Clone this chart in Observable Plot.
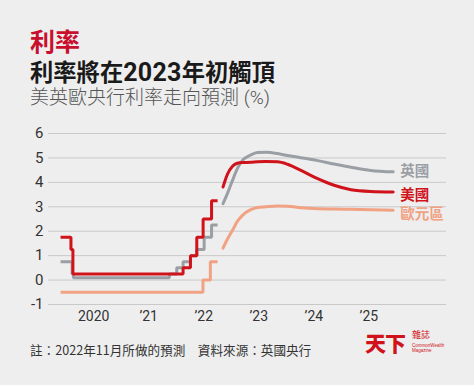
<!DOCTYPE html>
<html><head><meta charset="utf-8">
<script src="https://cdn.jsdelivr.net/npm/d3@7"></script>
<script src="https://cdn.jsdelivr.net/npm/@observablehq/plot@0.6"></script>
<style>
html,body{margin:0;padding:0;background:#eeeeee;}
#wrap{position:relative;width:474px;height:385px;overflow:hidden;background:#eeeeee;font-family:"Noto Sans CJK TC","Noto Sans",sans-serif;}
.t{position:absolute;white-space:nowrap;line-height:1;}
.hd{font-family:Roboto,"Noto Sans CJK TC",sans-serif;}
#kicker{left:30px;top:30px;font-size:25px;font-weight:700;color:#c8102e;line-height:26px;height:26px;}
#title{left:30px;top:61px;font-size:23.3px;font-weight:700;color:#1a1a1a;line-height:23px;height:23px;}
#title span{font-size:25px;letter-spacing:0.3px;line-height:23px;}
#sub{left:30px;top:88px;font-size:19px;font-weight:300;color:#555;line-height:19px;}
#chart{position:absolute;left:0;top:120px;}
#note{left:30px;top:344px;font-size:12.6px;color:#333;}
#logo1{left:365px;top:332px;font-size:21px;font-weight:900;color:#d0121b;letter-spacing:-1px;}
#logo2{left:412px;top:330px;font-size:9px;color:#d0121b;}
#logo3{left:412px;top:343px;font-size:4.5px;color:#d0121b;font-family:"Liberation Sans",sans-serif;line-height:1.2;}
</style></head>
<body><div id="wrap">
<div class="t hd" id="kicker">利率</div>
<div class="t hd" id="title">利率將在<span>2023</span>年初觸頂</div>
<div class="t hd" id="sub">美英歐央行利率走向預測 (%)</div>
<div id="chart"></div>
<div class="t" id="note">註：2022年11月所做的預測　資料來源：英國央行</div>
<div class="t" id="logo1">天下</div>
<div class="t" id="logo2">雜誌</div>
<div class="t" id="logo3">CommonWealth<br>Magazine</div>
</div>
<script>
// Historical policy rates (step series)
const usStepDates = ["2019-12-25","2020-03-03","2020-03-16","2022-03-17","2022-05-05","2022-06-16","2022-07-28","2022-09-22","2022-11-01"];
const usStepRates = [1.75,1.25,0.25,0.5,1.0,1.75,2.5,3.25,3.25];
const ukStepDates = ["2019-12-25","2020-03-11","2020-03-19","2021-12-16","2022-02-03","2022-03-17","2022-05-05","2022-06-16","2022-08-04","2022-09-22","2022-11-01"];
const ukStepRates = [0.75,0.25,0.1,0.25,0.5,0.75,1.0,1.25,1.75,2.25,2.25];
const euStepDates = ["2019-12-25","2022-07-27","2022-09-14","2022-11-01"];
const euStepRates = [-0.5,0,0.75,0.75];

// Market-implied forecasts (Nov 2022)
const fcDates = ["2022-12-07","2023-01-05","2023-02-08","2023-03-12","2023-04-15","2023-06-09","2023-07-23","2023-09-16","2023-12-03","2024-02-08","2024-05-07","2024-08-26","2024-12-13","2025-04-04","2025-08-14","2026-01-09"];
const ukForecast = [3.13,3.54,4.08,4.56,4.90,5.12,5.22,5.23,5.18,5.10,5.01,4.89,4.75,4.62,4.49,4.43];
const usForecast = [3.81,4.33,4.66,4.78,4.81,4.82,4.84,4.85,4.84,4.74,4.49,4.15,3.88,3.70,3.63,3.61];
const euForecast = [1.31,1.67,2.04,2.40,2.65,2.88,2.97,3.00,3.03,3.02,2.96,2.92,2.91,2.90,2.88,2.86];

const seriesNames = ["英國","美國","歐元區"];
const seriesColors = ["#9a9fa5","#d0121b","#f0a283"];
const yTicks = [-1,0,1,2,3,4,5,6];
const xTickDates = ["2020-08-01","2021-08-01","2022-08-01","2023-08-01","2024-08-01","2025-08-01"];
const xTickLabels = ["2020","’21","’22","’23","’24","’25"];

const P = d3.utcParse("%Y-%m-%d");
const toRows = (dates, vals, s) => dates.map((d,i) => ({date: P(d), v: vals[i], s}));
const ukStep = toRows(ukStepDates, ukStepRates, "英國");
const usStep = toRows(usStepDates, usStepRates, "美國");
const euStep = toRows(euStepDates, euStepRates, "歐元區");
const ukFc = toRows(fcDates, ukForecast, "英國");
const usFc = toRows(fcDates, usForecast, "美國");
const euFc = toRows(fcDates, euForecast, "歐元區");
const tickD = xTickDates.map(P);

const lineOpts = {x: "date", y: "v", strokeWidth: 3};
const labelOpts = {x: "date", y: "v", text: "s", dx: 7, textAnchor: "start", fontSize: 14.5, fontWeight: 700, fontFamily: "'Noto Sans CJK TC', sans-serif"};

const chart = Plot.plot({
  width: 474, height: 220,
  marginLeft: 48, marginRight: 28, marginTop: 13, marginBottom: 36,
  style: {background: "transparent", fontFamily: "Roboto, 'Noto Sans', sans-serif", fontSize: "15px", color: "#333"},
  x: {type: "utc", domain: [P("2019-10-06"), P("2026-12-29")]},
  y: {domain: [-1, 6]},
  marks: [
    Plot.gridY(yTicks, {stroke: "#c9c9c9", strokeOpacity: 1, strokeWidth: 1}),
    Plot.axisY({ticks: yTicks, tickSize: 0, tickPadding: 5, tickFormat: d => String(d), label: null, fontSize: 15}),
    Plot.axisX({ticks: tickD, tickSize: 0, tickPadding: 7, tickFormat: d => xTickLabels[tickD.findIndex(t => +t === +d)], label: null, fontSize: 14}),
    Plot.line(euStep, {...lineOpts, stroke: seriesColors[2], curve: "step-after", strokeLinejoin: "miter", strokeLinecap: "butt"}),
    Plot.line(ukStep, {...lineOpts, stroke: seriesColors[0], curve: "step-after", strokeLinejoin: "miter", strokeLinecap: "butt"}),
    Plot.line(usStep, {...lineOpts, stroke: seriesColors[1], curve: "step-after", strokeLinejoin: "miter", strokeLinecap: "butt"}),
    Plot.line(euFc, {...lineOpts, stroke: seriesColors[2], curve: "monotone-x", strokeLinecap: "round"}),
    Plot.line(ukFc, {...lineOpts, stroke: seriesColors[0], curve: "monotone-x", strokeLinecap: "round"}),
    Plot.line(usFc, {...lineOpts, stroke: seriesColors[1], curve: "monotone-x", strokeLinecap: "round"}),
    Plot.text([ukFc.at(-1)], {...labelOpts, fill: seriesColors[0], dy: 0}),
    Plot.text([usFc.at(-1)], {...labelOpts, fill: seriesColors[1], dy: 3}),
    Plot.text([euFc.at(-1)], {...labelOpts, fill: seriesColors[2], dy: 4})
  ]
});
document.getElementById("chart").appendChild(chart);
</script>
</body></html>
